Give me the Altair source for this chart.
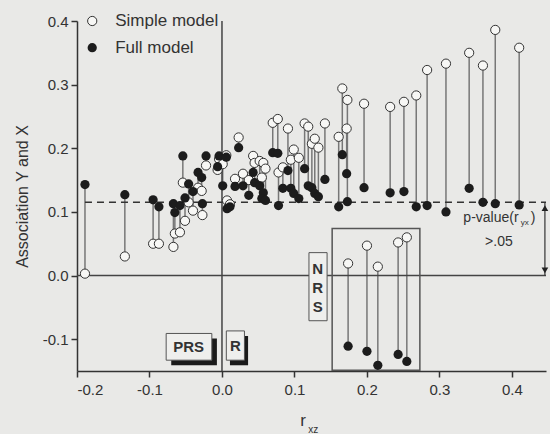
import altair as alt
import pandas as pd

# r_xz position of each pair
rxz = [-0.189, -0.134, -0.095, -0.087, -0.067, -0.065, -0.058, -0.054, -0.051, -0.046,
       -0.040, -0.033, -0.028, -0.027, -0.022, -0.006, -0.004, 0.001, 0.006, 0.007,
       0.011, 0.018, 0.023, 0.029, 0.037, 0.043, 0.045, 0.052, 0.057, 0.055,
       0.060, 0.070, 0.077, 0.078, 0.084, 0.091, 0.095, 0.099, 0.106, 0.114,
       0.119, 0.124, 0.128, 0.133, 0.142, 0.161, 0.166, 0.172, 0.173, 0.196,
       0.232, 0.251, 0.268, 0.283, 0.309, 0.341, 0.360, 0.377, 0.410,
       0.174, 0.200, 0.215, 0.243, 0.255]
simple = [0.003, 0.030, 0.050, 0.050, 0.045, 0.066, 0.068, 0.146, 0.086, 0.115,
          0.102, 0.138, 0.133, 0.095, 0.173, 0.166, 0.183, 0.175, 0.189, 0.118,
          0.112, 0.152, 0.217, 0.160, 0.150, 0.188, 0.177, 0.180, 0.177, 0.154,
          0.168, 0.240, 0.246, 0.162, 0.170, 0.231, 0.182, 0.198, 0.185, 0.239,
          0.234, 0.207, 0.215, 0.201, 0.239, 0.218, 0.294, 0.231, 0.276, 0.270,
          0.265, 0.273, 0.283, 0.323, 0.333, 0.350, 0.330, 0.386, 0.358,
          0.019, 0.047, 0.014, 0.052, 0.060]
full = [0.143, 0.127, 0.119, 0.108, 0.113, 0.099, 0.110, 0.188, 0.122, 0.144,
        0.132, 0.162, 0.154, 0.113, 0.188, 0.171, 0.188, 0.141, 0.186, 0.105,
        0.108, 0.140, 0.201, 0.141, 0.126, 0.162, 0.146, 0.141, 0.130, 0.121,
        0.118, 0.193, 0.192, 0.110, 0.137, 0.165, 0.137, 0.129, 0.121, 0.168,
        0.141, 0.138, 0.129, 0.124, 0.151, 0.108, 0.190, 0.160, 0.116, 0.138,
        0.130, 0.132, 0.108, 0.110, 0.100, 0.137, 0.115, 0.113, 0.111,
        -0.111, -0.119, -0.141, -0.124, -0.135]

x_ticks = [-0.2, -0.1, 0.0, 0.1, 0.2, 0.3, 0.4]
y_ticks = [-0.1, 0.0, 0.1, 0.2, 0.3, 0.4]
threshold = 0.115

BG = "#e9e9e7"
FONT = "Liberation Sans"
XD = [-0.2, 0.447]
YD = [-0.15, 0.4]
LBL = "datum.value < 0 ? '-' + format(-datum.value, '.1f') : format(datum.value, '.1f')"

df = pd.DataFrame({"x": rxz, "simple": simple, "full": full})

xs = alt.Scale(domain=XD, nice=False, zero=False)
ys = alt.Scale(domain=YD, nice=False, zero=False)

X = alt.X("x:Q", scale=xs, axis=alt.Axis(values=x_ticks, labelExpr=LBL, title=None))
Y_axis = alt.Axis(values=y_ticks, labelExpr=LBL, title="Association Y and X",
                  titleFontSize=16, titleFontWeight="normal", titleColor="#333",
                  titlePadding=12)

base = alt.Chart(df)

stems = base.mark_rule(color="#777", strokeWidth=1.5).encode(
    x=X, y=alt.Y("simple:Q", scale=ys, axis=Y_axis), y2="full:Q")

open_pts = base.mark_point(shape="circle", filled=True, fill="#f7f7f5",
                           stroke="#333", strokeWidth=1, size=85, opacity=1).encode(
    x="x:Q", y="simple:Q")
full_pts = base.mark_point(shape="circle", filled=True, color="#1c1c1c",
                           size=85, opacity=1).encode(x="x:Q", y="full:Q")

# reference lines
hlines = pd.DataFrame({"y": [0.0], "x1": [XD[0]], "x2": [XD[1]]})
zero_h = alt.Chart(hlines).mark_rule(color="#444", strokeWidth=1.5).encode(
    x="x1:Q", x2="x2:Q", y="y:Q")
vl = pd.DataFrame({"x": [0.0], "y1": [YD[0]], "y2": [YD[1]]})
zero_v = alt.Chart(vl).mark_rule(color="#444", strokeWidth=1.5).encode(
    x="x:Q", y="y1:Q", y2="y2:Q")
dl = pd.DataFrame({"y": [threshold], "x1": [-0.189], "x2": [0.447]})
dash = alt.Chart(dl).mark_rule(color="#333", strokeWidth=1.5, strokeDash=[7, 5]).encode(
    x="x1:Q", x2="x2:Q", y="y:Q")

# boxes
shadows = pd.DataFrame({"x1": [-0.070, 0.011], "x2": [-0.007, 0.036],
                        "y1": [-0.099, -0.095], "y2": [-0.141, -0.141]})
shadow_m = alt.Chart(shadows).mark_rect(color="#1a1a1a").encode(
    x="x1:Q", x2="x2:Q", y="y1:Q", y2="y2:Q")
boxes = pd.DataFrame({"x1": [-0.077, 0.006, 0.120], "x2": [-0.014, 0.031, 0.145],
                      "y1": [-0.091, -0.087, 0.036], "y2": [-0.133, -0.133, -0.071]})
box_m = alt.Chart(boxes).mark_rect(fill="#efefed", stroke="#555", strokeWidth=1).encode(
    x="x1:Q", x2="x2:Q", y="y1:Q", y2="y2:Q")
big = pd.DataFrame({"x1": [0.152], "x2": [0.273], "y1": [0.074], "y2": [-0.149]})
big_m = alt.Chart(big).mark_rect(fill=None, stroke="#555", strokeWidth=1.5).encode(
    x="x1:Q", x2="x2:Q", y="y1:Q", y2="y2:Q")

labels = pd.DataFrame({"x": [-0.046, 0.0185, 0.132, 0.132, 0.132],
                       "y": [-0.112, -0.110, 0.011, -0.019, -0.049],
                       "t": ["PRS", "R", "N", "R", "S"]})
lab_m = alt.Chart(labels).mark_text(font=FONT, fontSize=15, fontWeight="bold",
                                    color="#333").encode(x="x:Q", y="y:Q", text="t:N")

# legend
leg = pd.DataFrame({"x": [-0.179, -0.179], "y": [0.400, 0.358],
                    "t": ["Simple model", "Full model"], "k": ["s", "f"]})
leg_open = alt.Chart(leg.iloc[[0]]).mark_point(shape="circle", filled=True, fill="#f7f7f5",
                                               stroke="#333", strokeWidth=1, size=85,
                                               opacity=1).encode(x="x:Q", y="y:Q")
leg_full = alt.Chart(leg.iloc[[1]]).mark_point(shape="circle", filled=True, color="#1c1c1c",
                                               size=85, opacity=1).encode(x="x:Q", y="y:Q")
leg_txt = alt.Chart(leg).mark_text(font=FONT, fontSize=17, align="left", dx=23,
                                   color="#333").encode(x="x:Q", y="y:Q", text="t:N")

# p-value arrow
ar = pd.DataFrame({"x": [0.4455], "y1": [0.0], "y2": [threshold]})
arrow_line = alt.Chart(ar).mark_rule(color="#333", strokeWidth=1.2).encode(
    x="x:Q", y="y1:Q", y2="y2:Q")
heads = pd.DataFrame({"x": [0.4455, 0.4455], "y": [0.106, 0.008],
                      "s": ["triangle-up", "triangle-down"]})
heads_m = alt.Chart(heads).mark_point(filled=True, color="#222", size=45, opacity=1).encode(
    x="x:Q", y="y:Q", shape=alt.Shape("s:N", scale=None))

ann = pd.DataFrame({"x": [0.333, 0.412, 0.426, 0.363],
                    "y": [0.091, 0.083, 0.091, 0.052],
                    "t": ["p-value(r", "yx", ")", ">.05"],
                    "fs": [14, 8, 14, 14]})
ann_m = alt.Chart(ann).mark_text(font=FONT, align="left", color="#333").encode(
    x="x:Q", y="y:Q", text="t:N", size=alt.Size("fs:Q", scale=None))

# x axis title r_xz
xt = pd.DataFrame({"x": [0.108, 0.119], "y": [-0.228, -0.243], "t": ["r", "xz"],
                   "fs": [17, 10]})
xt_m = alt.Chart(xt).mark_text(font=FONT, align="left", color="#333").encode(
    x="x:Q", y="y:Q", text="t:N", size=alt.Size("fs:Q", scale=None))

chart = alt.layer(
    stems, zero_h, zero_v, dash, big_m, shadow_m, box_m, lab_m,
    open_pts, full_pts, leg_open, leg_full, leg_txt,
    arrow_line, heads_m, ann_m, xt_m
).properties(
    width=469, height=350,
    autosize=alt.AutoSizeParams(type="none"),
    padding={"left": 77, "top": 21, "right": 4, "bottom": 63},
    background=BG,
).configure_view(stroke=None).configure_axis(
    grid=False, domainColor="#333", domainWidth=1.5, tickColor="#333", tickWidth=1.5,
    tickSize=6, labelFont=FONT, labelFontSize=15, labelColor="#333", titleFont=FONT,
    labelPadding=3
).configure_axisX(labelPadding=5)

chart.save("out.html", embed_options={"renderer": "svg", "actions": False})
